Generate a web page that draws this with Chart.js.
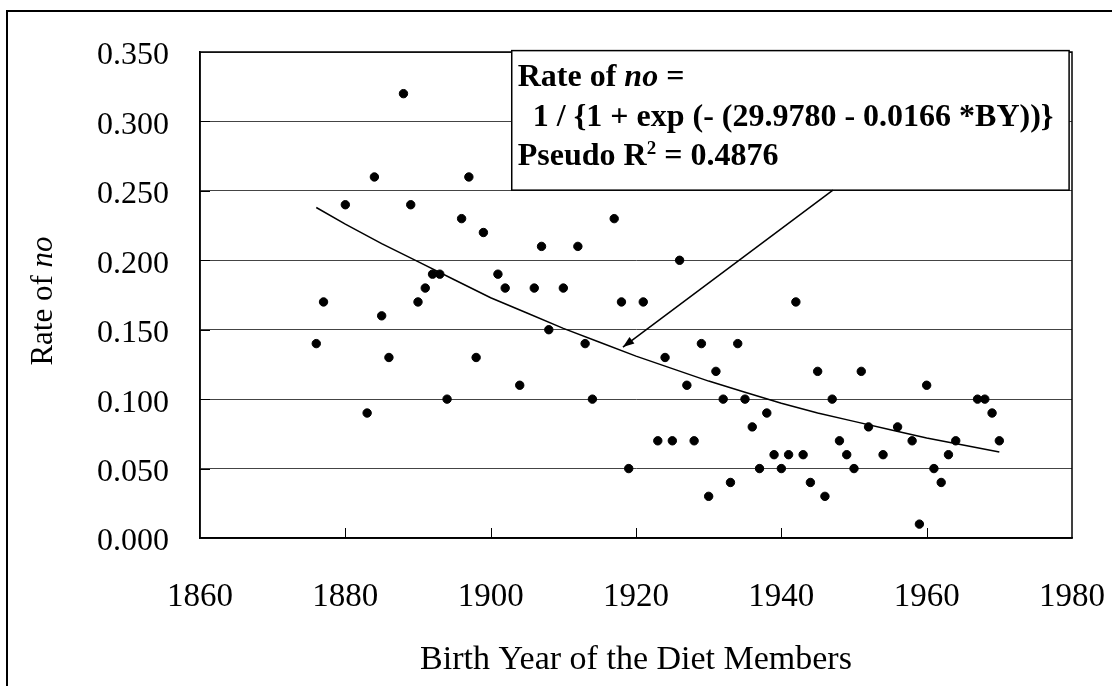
<!DOCTYPE html>
<html>
<head>
<meta charset="utf-8">
<title>Rate of no by birth year</title>
<script src="https://cdn.jsdelivr.net/npm/chart.js@4.4.1/dist/chart.umd.min.js"></script>
<style>
  html, body { margin: 0; padding: 0; background: #fff; }
  #wrap { width: 1112px; height: 686px; }
</style>
</head>
<body>
<div id="wrap"><canvas id="chart"></canvas></div>
<script>
// données
const birthYears = [
  1876, 1877, 1880, 1883, 1884, 1885, 1886, 1888, 1889, 1890,
  1891, 1892, 1893, 1894, 1896, 1897, 1898, 1899, 1901, 1902,
  1904, 1906, 1907, 1908, 1910, 1912, 1913, 1914, 1917, 1918,
  1919, 1921, 1923, 1924, 1925, 1926, 1927, 1928, 1929, 1930,
  1931, 1932, 1933, 1934, 1935, 1936, 1937, 1938, 1939, 1940,
  1941, 1942, 1943, 1944, 1945, 1946, 1947, 1948, 1949, 1950,
  1951, 1952, 1954, 1956, 1958, 1959, 1960, 1961, 1962, 1963,
  1964, 1967, 1968, 1969, 1970
];
const noRates = [
  0.14, 0.17, 0.24, 0.09, 0.26, 0.16, 0.13, 0.32, 0.24, 0.17,
  0.18, 0.19, 0.19, 0.10, 0.23, 0.26, 0.13, 0.22, 0.19, 0.18,
  0.11, 0.18, 0.21, 0.15, 0.18, 0.21, 0.14, 0.10, 0.23, 0.17,
  0.05, 0.17, 0.07, 0.13, 0.07, 0.20, 0.11, 0.07, 0.14, 0.03,
  0.12, 0.10, 0.04, 0.14, 0.10, 0.08, 0.05, 0.09, 0.06, 0.05,
  0.06, 0.17, 0.06, 0.04, 0.12, 0.03, 0.10, 0.07, 0.06, 0.05,
  0.12, 0.08, 0.06, 0.08, 0.07, 0.01, 0.11, 0.05, 0.04, 0.06,
  0.07, 0.10, 0.10, 0.09, 0.07
];

// courbe ajustée (logistique)
const fitYears = [1876, 1880, 1885, 1890, 1895, 1900, 1905, 1910, 1915, 1920,
                  1925, 1930, 1935, 1940, 1945, 1950, 1955, 1960, 1965, 1970];
const fitRates = [0.238, 0.226, 0.212, 0.199, 0.186, 0.173, 0.162, 0.151, 0.141, 0.131,
                  0.122, 0.113, 0.105, 0.097, 0.090, 0.084, 0.078, 0.072, 0.067, 0.062];

const xTickValues = [1860, 1880, 1900, 1920, 1940, 1960, 1980];
const yTickValues = [0, 0.05, 0.10, 0.15, 0.20, 0.25, 0.30, 0.35];

const FONT = "'Liberation Serif', 'Times New Roman', serif";
Chart.defaults.font.family = FONT;
Chart.defaults.color = '#000';

const points = birthYears.map((y, i) => ({ x: y, y: noRates[i] }));
const fitLine = fitYears.map((y, i) => ({ x: y, y: fitRates[i] }));

/* cadre, encadré, flèche, graduations internes */
const decorations = {
  id: 'decorations',
  beforeDraw(chart) {
    const ctx = chart.ctx;
    ctx.save();
    ctx.fillStyle = '#fff';
    ctx.fillRect(0, 0, chart.width, chart.height);
    ctx.strokeStyle = '#000';
    ctx.lineWidth = 2;
    ctx.beginPath();
    ctx.moveTo(7, chart.height);
    ctx.lineTo(7, 11);
    ctx.lineTo(chart.width, 11);
    ctx.stroke();
    ctx.restore();
  },
  afterDraw(chart) {
    const ctx = chart.ctx;
    const xs = chart.scales.x, ys = chart.scales.y;
    const a = chart.chartArea;
    ctx.save();

    // bordure de la zone de tracé
    ctx.strokeStyle = '#000';
    ctx.lineWidth = 1.5;
    ctx.strokeRect(a.left, a.top, a.right - a.left, a.bottom - a.top);

    // graduations vers l'intérieur
    ctx.lineWidth = 1;
    ctx.beginPath();
    xTickValues.slice(1, -1).forEach(v => {
      const px = Math.round(xs.getPixelForValue(v)) + 0.5;
      ctx.moveTo(px, a.bottom);
      ctx.lineTo(px, a.bottom - 10);
    });
    yTickValues.slice(1, -1).forEach(v => {
      const py = Math.round(ys.getPixelForValue(v)) + 0.5;
      ctx.moveTo(a.left, py);
      ctx.lineTo(a.left + 10, py);
    });
    ctx.stroke();

    // titre de l'axe Y : "Rate of no"
    ctx.save();
    ctx.translate(44, (a.top + a.bottom) / 2 + 6);
    ctx.rotate(-Math.PI / 2);
    ctx.textBaseline = 'middle';
    ctx.fillStyle = '#000';
    const f1 = '31px ' + FONT, f2 = 'italic 31px ' + FONT;
    ctx.font = f1; const w1 = ctx.measureText('Rate of ').width;
    ctx.font = f2; const w2 = ctx.measureText('no').width;
    let tx = -(w1 + w2) / 2;
    ctx.font = f1; ctx.fillText('Rate of ', tx, 0);
    ctx.font = f2; ctx.fillText('no', tx + w1, 0);
    ctx.restore();

    // encadré de l'équation
    const bx = xs.getPixelForValue(1902.9), bx2 = xs.getPixelForValue(1979.6);
    const by = ys.getPixelForValue(0.351), by2 = ys.getPixelForValue(0.2505);
    ctx.fillStyle = '#fff';
    ctx.fillRect(bx, by, bx2 - bx, by2 - by);
    ctx.strokeStyle = '#000';
    ctx.lineWidth = 1.5;
    ctx.strokeRect(bx, by, bx2 - bx, by2 - by);

    ctx.fillStyle = '#000';
    ctx.textBaseline = 'alphabetic';
    const bold = 'bold 32px ' + FONT, boldIt = 'italic bold 32px ' + FONT;
    // ligne 1
    let cx = bx + 6, base = by + 35;
    ctx.font = bold; ctx.fillText('Rate of ', cx, base);
    cx += ctx.measureText('Rate of ').width;
    ctx.font = boldIt; ctx.fillText('no', cx, base);
    cx += ctx.measureText('no').width;
    ctx.font = bold; ctx.fillText(' =', cx, base);
    // ligne 2
    ctx.fillText('1 / {1 + exp (- (29.9780 - 0.0166 *BY))}', bx + 21, by + 75);
    // ligne 3
    cx = bx + 6; base = by + 114;
    ctx.fillText('Pseudo R', cx, base);
    cx += ctx.measureText('Pseudo R').width;
    ctx.font = 'bold 19px ' + FONT; ctx.fillText('2', cx, base - 11);
    cx += ctx.measureText('2').width;
    ctx.font = bold; ctx.fillText(' = 0.4876', cx, base);

    // flèche vers la courbe
    const ax = xs.getPixelForValue(1947.1), ay = ys.getPixelForValue(0.2505);
    const hx = xs.getPixelForValue(1918.2), hy = ys.getPixelForValue(0.1375);
    ctx.strokeStyle = '#000';
    ctx.lineWidth = 1.5;
    ctx.beginPath();
    ctx.moveTo(ax, ay);
    ctx.lineTo(hx, hy);
    ctx.stroke();
    const ang = Math.atan2(hy - ay, hx - ax);
    ctx.beginPath();
    ctx.moveTo(hx, hy);
    ctx.lineTo(hx - 12 * Math.cos(ang - 0.35), hy - 12 * Math.sin(ang - 0.35));
    ctx.lineTo(hx - 12 * Math.cos(ang + 0.35), hy - 12 * Math.sin(ang + 0.35));
    ctx.closePath();
    ctx.fill();

    ctx.restore();
  }
};

new Chart(document.getElementById('chart'), {
  type: 'scatter',
  data: {
    datasets: [
      {
        label: 'Rate of no',
        data: points,
        backgroundColor: '#000',
        borderColor: '#000',
        pointRadius: 4.2,
        pointHoverRadius: 4.2,
      },
      {
        label: 'Fit',
        type: 'line',
        data: fitLine,
        borderColor: '#000',
        borderWidth: 1.5,
        pointRadius: 0,
        fill: false,
        tension: 0,
      },
    ],
  },
  options: {
    responsive: true,
    maintainAspectRatio: false,
    animation: false,
    events: [],
    layout: { padding: { top: 52, right: 40, left: 0, bottom: 0 } },
    plugins: {
      legend: { display: false },
      tooltip: { enabled: false },
    },
    scales: {
      x: {
        type: 'linear',
        min: 1860,
        max: 1980,
        afterFit: (s) => { s.height = 148; s.paddingLeft = 0; s.paddingRight = 0; },
        afterBuildTicks: (s) => { s.ticks = xTickValues.map(v => ({ value: v })); },
        grid: { color: 'rgba(0,0,0,0)', drawTicks: false },
        border: { color: '#000', width: 1.5 },
        ticks: {
          padding: 40,
          maxRotation: 0,
          font: { size: 33 },
          callback: (v) => String(v),
        },
        title: {
          display: true,
          text: 'Birth Year of the Diet Members',
          font: { size: 34 },
          padding: { top: 0, bottom: 6 },
        },
      },
      y: {
        min: 0,
        max: 0.35,
        afterFit: (s) => { s.width = 200; s.paddingTop = 0; s.paddingBottom = 0; },
        afterBuildTicks: (s) => { s.ticks = yTickValues.map(v => ({ value: v })); },
        grid: { color: '#444', lineWidth: 1, drawTicks: false },
        border: { color: '#000', width: 1.5 },
        ticks: {
          padding: 31,
          labelOffset: 4,
          font: { size: 32 },
          callback: (v) => v.toFixed(3),
        },
      },
    },
  },
  plugins: [decorations],
});
</script>
</body>
</html>
